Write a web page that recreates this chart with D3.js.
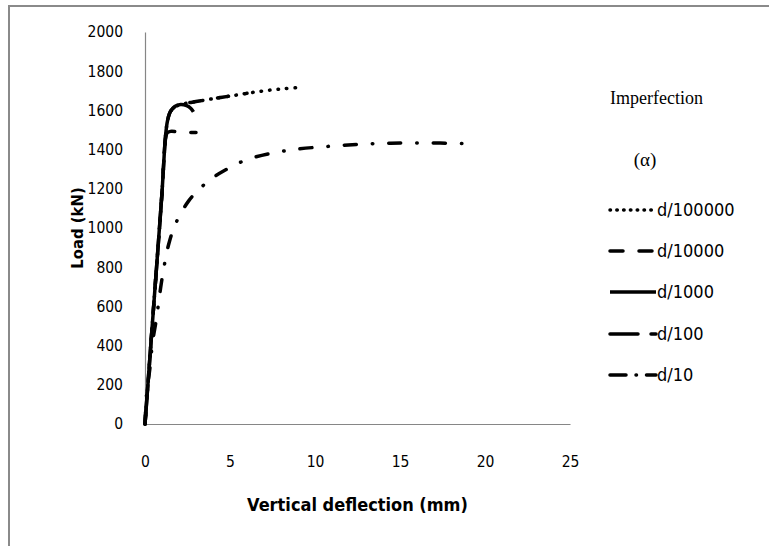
<!DOCTYPE html>
<html>
<head>
<meta charset="utf-8">
<script src="https://cdn.jsdelivr.net/npm/d3@7"></script>
<style>
  body { margin: 0; background: #fff; }
  svg { display: block; }
  text { font-family: "Liberation Sans Narrow", "DejaVu Sans Condensed", sans-serif; fill: #000; }
</style>
</head>
<body>
<div id="chart"></div>
<script>
// tick values
const xTicks = [0, 5, 10, 15, 20, 25];
const yTicks = [0, 200, 400, 600, 800, 1000, 1200, 1400, 1600, 1800, 2000];

// series: [deflection mm, load kN]
const d100000 = [[0, 0], [0.5, 590], [1.0, 1180], [1.1, 1330], [1.2, 1460], [1.32, 1545], [1.5, 1595], [1.8, 1620], [2.3, 1634], [3.0, 1645], [3.75, 1656], [4.45, 1666], [5.3, 1677], [6.2, 1690], [7.2, 1702], [8.2, 1711], [9.1, 1717]];
const d10000 = [[0, 0], [0.5, 590], [1.0, 1180], [1.1, 1330], [1.2, 1460], [1.32, 1545], [1.5, 1595], [1.8, 1620], [2.3, 1634], [3.0, 1645], [3.75, 1656], [4.45, 1666], [5.3, 1677], [6.0, 1687]];
const d1000 = [[0, 0], [0.5, 590], [1.0, 1180], [1.1, 1330], [1.2, 1460], [1.32, 1545], [1.5, 1595], [1.75, 1620], [2.1, 1630], [2.45, 1624], [2.7, 1610], [2.85, 1592]];
const d100 = [[0, 0], [0.5, 590], [1.0, 1180], [1.1, 1330], [1.2, 1450], [1.3, 1485], [1.5, 1493], [2.0, 1490], [3.0, 1487]];
const d10 = [[0, 0], [0.1, 158], [0.29, 286], [0.44, 414], [0.68, 542], [0.87, 665], [1.06, 772], [1.39, 916], [1.83, 1028], [2.56, 1137], [3.18, 1197], [3.85, 1248], [4.62, 1291], [6.1, 1352], [8.4, 1396], [11.0, 1418], [13.6, 1431], [16.2, 1434], [19.0, 1431]];

const seriesNames = ["d/100000", "d/10000", "d/1000", "d/100", "d/10"];
const seriesData = [d100000, d10000, d1000, d100, d10];
const dashes = ["0.5,8", "11,17", null, "28,16,8,16", "12,16,0.5,16"];
// shorter patterns so each legend sample ends on a mark, as Excel draws it
const legendDashes = ["0.5,6.3", "13,16", null, "28,13,7", "16,10,0.5,10,12"];

const W = 769, H = 546;
const plot = { left: 145, right: 570, top: 32, bottom: 424 };

const svg = d3.select("#chart").append("svg")
    .attr("width", W)
    .attr("height", H);

svg.append("rect").attr("width", W).attr("height", H).attr("fill", "#fff");

// outer frame (only left and top show in the crop)
svg.append("path")
    .attr("d", `M9,${H} V6 H${W}`)
    .attr("fill", "none")
    .attr("stroke", "#8a8a8a")
    .attr("stroke-width", 2);

const x = d3.scaleLinear().domain([0, 25]).range([plot.left, plot.right]);
const y = d3.scaleLinear().domain([0, 2000]).range([plot.bottom, plot.top]);

// axes without tick marks
const xAxis = svg.append("g")
    .attr("transform", `translate(0,${plot.bottom})`)
    .call(d3.axisBottom(x).tickValues(xTicks).tickFormat(d3.format("d")).tickSize(0).tickPadding(32));
const yAxis = svg.append("g")
    .attr("transform", `translate(${plot.left},0)`)
    .call(d3.axisLeft(y).tickValues(yTicks).tickFormat(d3.format("d")).tickSize(0).tickPadding(22));

[xAxis, yAxis].forEach(g => {
    g.select(".domain").attr("stroke", "#868686").attr("stroke-width", 1.2);
    g.selectAll("text")
        .attr("font-family", null)
        .attr("font-size", 15.5)
        .attr("fill", "#000");
});

// curves
const lineFree = d3.line().x(d => x(d[0])).y(d => y(d[1])).curve(d3.curveCatmullRom.alpha(0.5));

seriesData.forEach((data, i) => {
    svg.append("path")
        .datum(data)
        .attr("d", lineFree)
        .attr("fill", "none")
        .attr("stroke", "#000")
        .attr("stroke-width", 3.5)
        .attr("stroke-linecap", dashes[i] ? "round" : "butt")
        .attr("stroke-linejoin", "round")
        .attr("stroke-dasharray", dashes[i]);
});

// axis titles
svg.append("text")
    .attr("text-anchor", "middle")
    .attr("x", (plot.left + plot.right) / 2)
    .attr("y", 511)
    .attr("font-size", 18)
    .attr("font-weight", "bold")
    .text("Vertical deflection (mm)");

svg.append("text")
    .attr("text-anchor", "middle")
    .attr("transform", "rotate(-90)")
    .attr("x", -(plot.top + plot.bottom) / 2)
    .attr("y", 83)
    .attr("font-size", 16.5)
    .attr("font-weight", "bold")
    .text("Load (kN)");

// legend header
svg.append("text")
    .attr("x", 610)
    .attr("y", 104)
    .attr("font-size", 18)
    .style("font-family", "Liberation Serif, serif")
    .text("Imperfection");

svg.append("text")
    .attr("x", 645)
    .attr("y", 166)
    .attr("text-anchor", "middle")
    .attr("font-size", 19)
    .style("font-family", "Liberation Serif, serif")
    .text("(α)");

// legend items
const legendY = [210, 251, 292, 334, 375];
seriesNames.forEach((name, i) => {
    const ly = legendY[i];
    svg.append("line")
        .attr("x1", 610).attr("x2", 656)
        .attr("y1", ly).attr("y2", ly)
        .attr("stroke", "#000")
        .attr("stroke-width", 3.5)
        .attr("stroke-linecap", legendDashes[i] ? "round" : "butt")
        .attr("stroke-dasharray", legendDashes[i]);
    svg.append("text")
        .attr("x", 657)
        .attr("y", ly)
        .attr("dy", "0.35em")
        .attr("font-size", 18)
        .text(name);
});
</script>
</body>
</html>
